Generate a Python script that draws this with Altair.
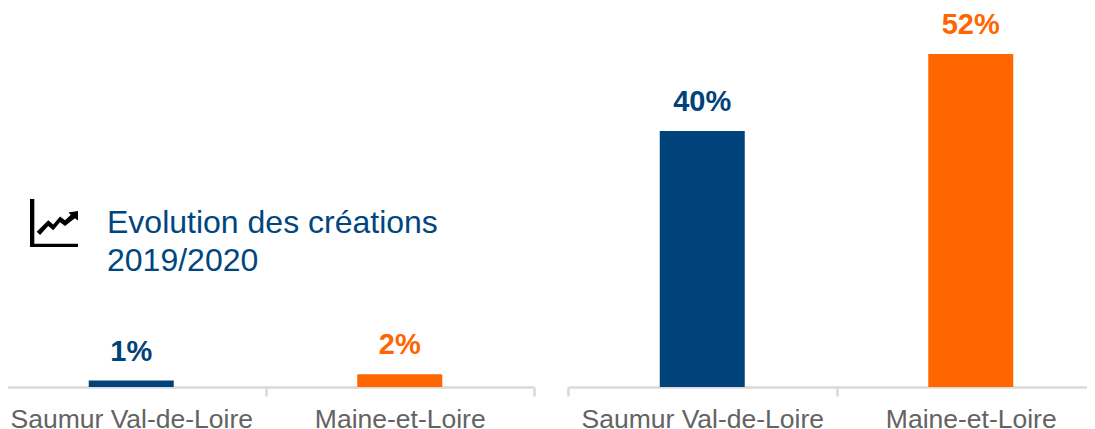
import altair as alt
import pandas as pd

CATEGORIES = ["Saumur Val-de-Loire", "Maine-et-Loire"]
LEFT_VALUES = [1, 2]
RIGHT_VALUES = [40, 52]
COLORS = ["#00437a", "#ff6600"]
TITLE_LINES = ["Evolution des créations", "2019/2020"]
ICON = ("M-1 -1 L-0.82 -1 L-0.82 0.86 L1 0.86 L1 1 L-1 1 Z "
        "M-0.72 0.36 L-0.24 -0.11 L-0.03 0.06 L0.25 -0.27 L0.46 -0.11 L0.7 -0.34 L0.6 -0.44 L1 -0.5 L1 -0.1 L0.87 -0.2 "
        "L0.46 0.13 L0.25 -0.03 L-0.03 0.3 L-0.24 0.12 L-0.58 0.5 Z")


def frame(values):
    return pd.DataFrame({
        "cat": CATEGORIES,
        "value": values,
        "label": [f"{v}%" for v in values],
    })


def panel(values, x_range):
    x = alt.X(
        "cat:N",
        sort=CATEGORIES,
        title=None,
        scale=alt.Scale(domain=CATEGORIES, range=x_range, paddingInner=0, paddingOuter=0),
        axis=alt.Axis(
            orient="bottom", labelAngle=0, labelFontSize=26.5, labelColor="#636363",
            labelFont="Liberation Sans", labelPadding=10, domainColor="#d9d9d9", domainWidth=2.5,
            tickColor="#d9d9d9", tickWidth=2.5, tickSize=9, tickBand="extent", labelLimit=300,
            grid=False,
        ),
    )
    y = alt.Y("value:Q", axis=None, scale=alt.Scale(domain=[0, 59.2], nice=False))
    color = alt.Color("cat:N", scale=alt.Scale(domain=CATEGORIES, range=COLORS), legend=None)
    base = alt.Chart(frame(values)).encode(x=x, y=y, color=color)
    return alt.layer(
        base.mark_bar(width=85),
        base.mark_text(baseline="bottom", dy=-14, fontSize=29, fontWeight="bold", font="Liberation Sans").encode(text="label:N"),
    )


placeholder = pd.DataFrame({"k": [0]})
notes = [
    alt.Chart(placeholder).mark_text(
        align="left", baseline="alphabetic", fontSize=32, font="Liberation Sans", color="#00467f"
    ).encode(x=alt.value(99), y=alt.value(y_pos), text=alt.value(line))
    for line, y_pos in zip(TITLE_LINES, [225, 263])
]
icon = alt.Chart(placeholder).mark_point(
    shape=ICON, size=2304, filled=True, color="#000000", opacity=1
).encode(x=alt.value(46), y=alt.value(215))

chart = alt.layer(
    panel(LEFT_VALUES, [-11, 526]),
    panel(RIGHT_VALUES, [560, 1097]),
    *notes,
    icon,
).resolve_scale(x="independent").properties(
    width=1079,
    height=379,
    autosize=alt.AutoSizeParams(type="none"),
    padding={"left": 0, "top": 0, "right": 0, "bottom": 42},
).configure_view(stroke=None)

chart.save("out.html", embed_options={"renderer": "svg", "actions": False})
